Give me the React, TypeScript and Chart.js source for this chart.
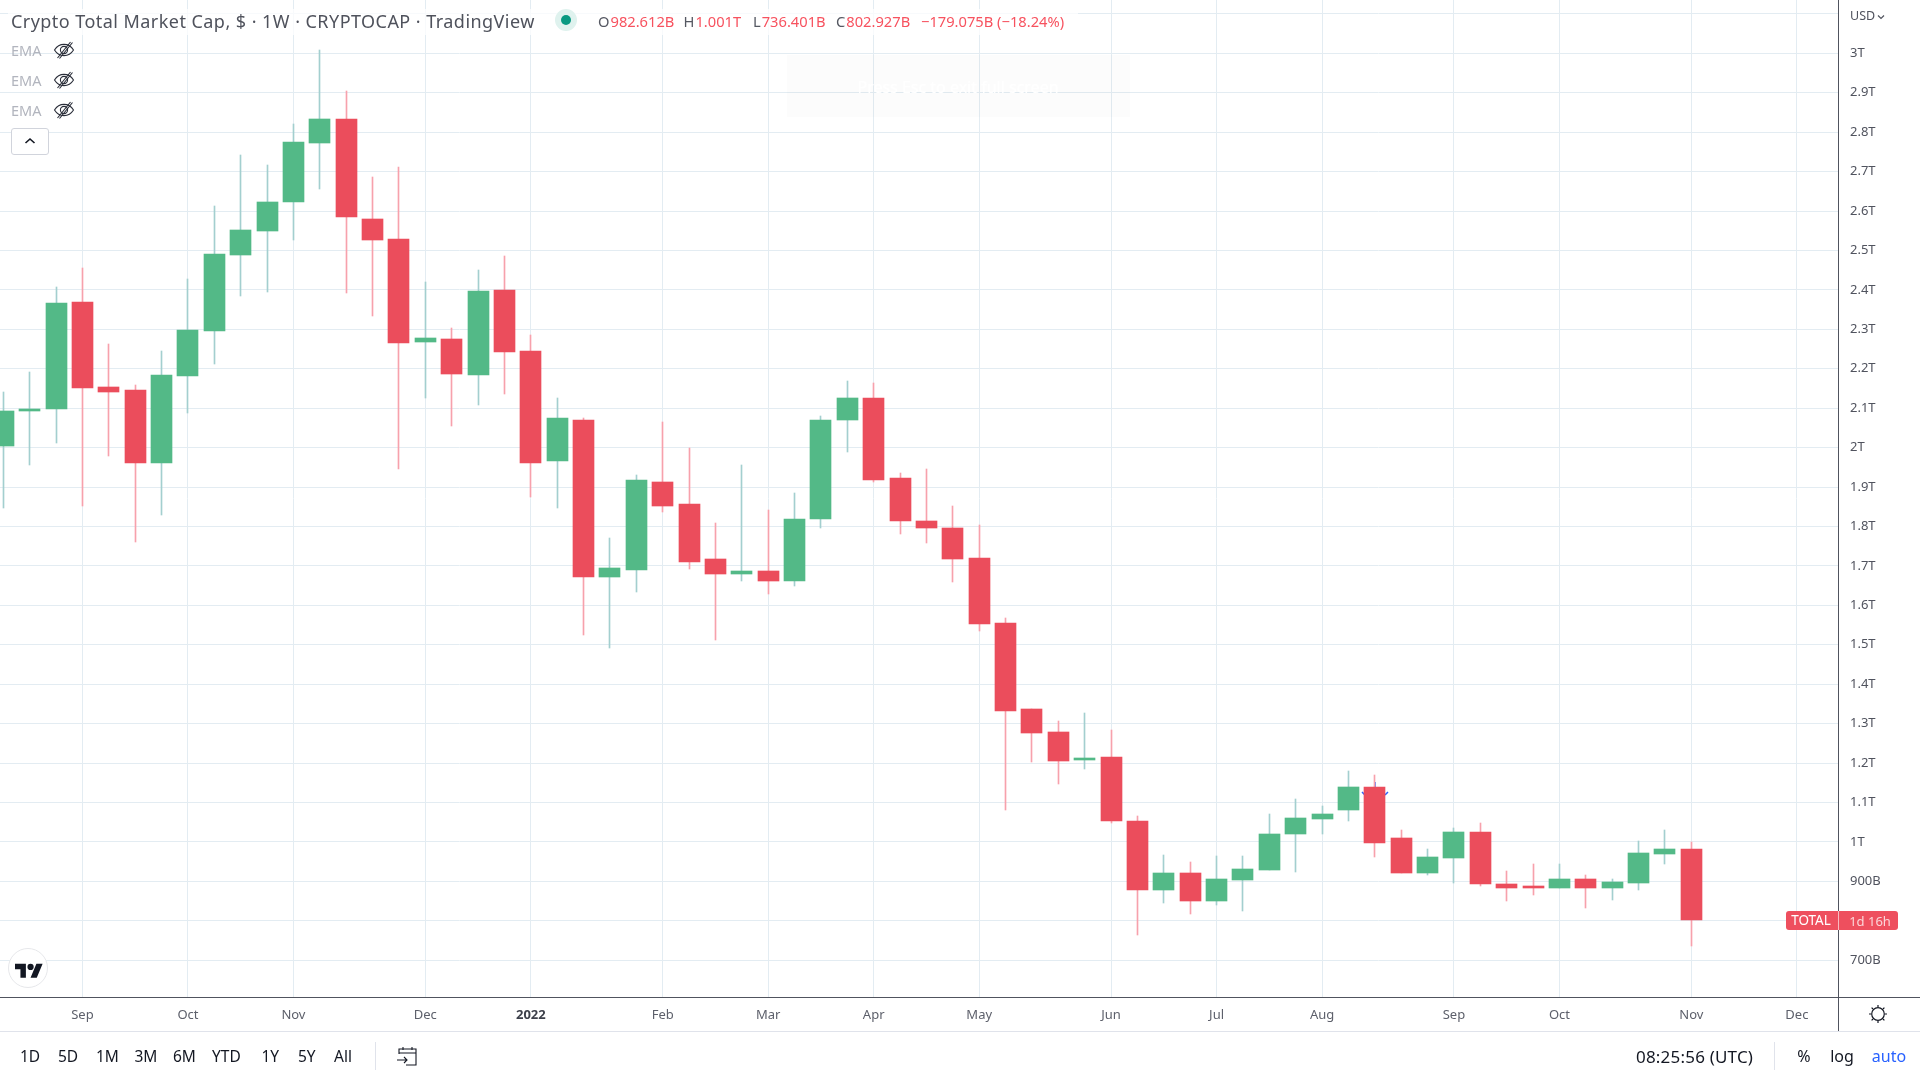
import React, { useEffect, useRef } from "react";
import { Chart, registerables } from "chart.js";

Chart.register(...registerables);

const opens = [2003,2092,2097,2369,2153,2145,1960,2181,2296,2489,2550,2623,2773,2833,2580,2529,2268,2276,2183,2400,2245,1965,2069,1671,1689,1914,1856,1717,1679,1686,1661,1820,2069,2127,1922,1815,1795,1719,1554,1336,1280,1209,1216,1054,879,922,849,904,930,1019,1059,1080,1140,1011,920,960,1026,894,889,882,907,884,897,970,982.612];
const highs = [2142,2191,2407,2456,2263,2160,2245,2428,2613,2742,2717,2821,3008,2904,2686,2712,2420,2303,2451,2486,2286,2125,2074,1772,1930,2066,1998,1810,1957,1843,1884,2079,2170,2163,1935,1945,1853,1805,1569,1338,1308,1328,1285,1067,968,948,965,965,1072,1110,1092,1181,1171,1031,983,1036,1049,927,945,943,915,907,1003,1031,1001];
const lows = [1846,1955,2011,1851,1978,1760,1828,2087,2211,2385,2395,2527,2656,2392,2334,1947,2127,2054,2107,2135,1876,1848,1526,1491,1635,1838,1691,1511,1661,1628,1648,1795,1990,1912,1780,1757,1658,1534,1082,1204,1148,1186,1049,765,846,818,839,826,929,925,1021,1052,963,920,917,897,889,849,866,882,833,854,879,943,736.401];
const closes = [2092,2099,2367,2150,2140,1962,2183,2298,2491,2552,2623,2775,2833,2585,2527,2265,2278,2188,2397,2243,1962,2074,1673,1696,1917,1853,1711,1679,1686,1661,1820,2071,2127,1919,1813,1795,1717,1552,1333,1277,1206,1214,1054,879,922,849,907,932,1021,1062,1072,1140,998,920,963,1026,894,884,884,907,884,899,973,983,802.927];

const monthTickIndex = [3,7,11,16,20,25,29,33,37,42,46,50,55,59,64,68];
const monthTickLabels = ["Sep","Oct","Nov","Dec","2022","Feb","Mar","Apr","May","Jun","Jul","Aug","Sep","Oct","Nov","Dec"];
const priceTicks = [700,800,900,1000,1100,1200,1300,1400,1500,1600,1700,1800,1900,2000,2100,2200,2300,2400,2500,2600,2700,2800,2900,3000,3100];
const priceTickLabels = ["700B","","900B","1T","1.1T","1.2T","1.3T","1.4T","1.5T","1.6T","1.7T","1.8T","1.9T","2T","2.1T","2.2T","2.3T","2.4T","2.5T","2.6T","2.7T","2.8T","2.9T","3T",""];

const rangeButtons = ["1D","5D","1M","3M","6M","YTD","1Y","5Y","All"];
const rangeButtonX = [20,58,96,134.5,173,212,261.5,298,334];
const ohlcParts = [
  { k: "O", v: "982.612B", x: 598 },
  { k: "H", v: "1.001T", x: 683.5 },
  { k: "L", v: "736.401B", x: 753 },
  { k: "C", v: "802.927B", x: 836 },
  { k: "", v: "\u2212179.075B (\u221218.24%)", x: 921 },
];
const markIndex = 52;
const markValue = 1124;

const UP = "#53b987";
const DOWN = "#eb4d5c";
const UP_WICK = "#a3cfcf";
const DOWN_WICK = "#f7a1ac";
const GRID = "#e3ecf2";
const FONT = '"Noto Sans", sans-serif';

const snapPlugin = {
  id: "snap",
  beforeDatasetsDraw(chart: any) {
    chart.data.datasets.forEach((_: any, i: number) => {
      chart.getDatasetMeta(i).data.forEach((el: any) => {
        el.x = Math.floor(el.x) + 0.5;
        el.y = Math.round(el.y);
        el.base = Math.round(el.base);
      });
    });
    const { ctx, scales } = chart;
    const mx = Math.round(scales.x.getPixelForValue(markIndex));
    const my = Math.round(scales.y.getPixelForValue(markValue));
    ctx.save();
    ctx.strokeStyle = "#2962ff";
    ctx.lineWidth = 1.5;
    ctx.beginPath();
    ctx.moveTo(mx - 13, my - 1);
    ctx.lineTo(mx - 10, my + 2);
    ctx.lineTo(mx - 6, my + 3);
    ctx.moveTo(mx + 13, my - 1);
    ctx.lineTo(mx + 10, my + 2);
    ctx.moveTo(mx, my - 11);
    ctx.lineTo(mx, my - 5);
    ctx.stroke();
    ctx.restore();
  },
};

function Txt({ x, y, children, color = "#131722", size = 15, anchor = "left", style = {} }: any) {
  const tx = anchor === "center" ? "translate(-50%,-50%)" : "translate(0,-50%)";
  return (
    <div style={{ position: "absolute", left: x, top: y, transform: tx, color, fontSize: size, fontFamily: FONT, whiteSpace: "nowrap", lineHeight: 1, ...style }}>
      {children}
    </div>
  );
}

function Eye({ y }: { y: number }) {
  return (
    <svg width="22" height="18" viewBox="0 0 22 18" style={{ position: "absolute", left: 53, top: y - 9 }} fill="none" stroke="#2a2e39" strokeWidth="1.1">
      <path d="M1.5 9C4 5 7 3.4 11 3.4S18 5 20.5 9C18 13 15 14.6 11 14.6S4 13 1.5 9Z" />
      <circle cx="11" cy="9" r="3.6" />
      <path d="M4.5 17L17.5 1M6.5 17.5L19.5 1.5" />
    </svg>
  );
}

export default function App() {
  const ref = useRef<HTMLCanvasElement>(null);
  useEffect(() => {
    const idx = closes.map((_, i) => i);
    const isUp = idx.map((i) => closes[i] >= opens[i]);
    const chart = new Chart(ref.current as HTMLCanvasElement, {
      type: "bar",
      data: {
        datasets: [
          {
            label: "Body",
            data: idx.map((i) => ({ x: i, y: [opens[i], closes[i]] })),
            backgroundColor: isUp.map((u) => (u ? UP : DOWN)),
            barThickness: 21,
            grouped: false,
            order: 1,
          },
          {
            label: "Wick",
            data: idx.map((i) => ({ x: i, y: [lows[i], highs[i]] })),
            backgroundColor: isUp.map((u) => (u ? UP_WICK : DOWN_WICK)),
            barThickness: 1,
            grouped: false,
            order: 2,
          },
        ],
      } as any,
      plugins: [snapPlugin],
      options: {
        animation: false,
        responsive: false,
        layout: { padding: { left: 0, right: 0, top: 0, bottom: 48 } },
        plugins: { legend: { display: false }, tooltip: { enabled: false }, title: { display: false } },
        scales: {
          x: {
            type: "linear",
            offset: false,
            min: -0.125,
            max: 69.56,
            border: { display: false },
            grid: { color: GRID, drawTicks: false, offset: false },
            afterBuildTicks: (s: any) => { s.ticks = monthTickIndex.map((v) => ({ value: v })); },
            afterFit: (s: any) => { s.height = 35; s.paddingLeft = 0; s.paddingRight = 0; },
            ticks: {
              autoSkip: false,
              maxRotation: 0,
              padding: 10,
              color: (c: any) => (c.tick && c.tick.value === 20 ? "#3d404a" : "#5d606b"),
              font: (c: any) => ({ family: FONT, size: 13, weight: c.tick && c.tick.value === 20 ? "bold" : "normal" }),
              callback: (v: any) => monthTickLabels[monthTickIndex.indexOf(v)] ?? "",
            },
          },
          y: {
            type: "linear",
            position: "right",
            min: 606.8,
            max: 3135.2,
            border: { display: false },
            grid: { color: GRID, drawTicks: false },
            afterBuildTicks: (s: any) => { s.ticks = priceTicks.map((v) => ({ value: v })); },
            afterFit: (s: any) => { s.width = 82; s.paddingTop = 0; s.paddingBottom = 0; },
            ticks: {
              autoSkip: false,
              crossAlign: "near",
              padding: 12,
              color: "#50535e",
              font: { family: FONT, size: 13 },
              callback: (v: any) => priceTickLabels[priceTicks.indexOf(v)] ?? "",
            },
          },
        },
      } as any,
    });
    return () => chart.destroy();
  }, []);

  return (
    <div style={{ position: "fixed", left: 0, top: 0, width: 1920, height: 1080, background: "#fff", overflow: "hidden" }}>
      <canvas ref={ref} width={1920} height={1080} style={{ position: "absolute", left: 0, top: 0, display: "block" }} />

      {/* frame lines */}
      <div style={{ position: "absolute", left: 1838, top: 0, width: 1, height: 1031, background: "#50535e" }} />
      <div style={{ position: "absolute", left: 0, top: 997, width: 1920, height: 1, background: "#50535e" }} />
      <div style={{ position: "absolute", left: 0, top: 1031, width: 1920, height: 1, background: "#e0e3eb" }} />

      {/* legend */}
      <div style={{ position: "absolute", left: 8, top: 9, width: 1070, height: 26, background: "rgba(255,255,255,0.75)" }} />
      <Txt x={11} y={21} size={18} color="#4f525c" style={{ letterSpacing: "0.45px" }}>Crypto Total Market Cap, $ · 1W · CRYPTOCAP · TradingView</Txt>
      <div style={{ position: "absolute", left: 555, top: 9, width: 22, height: 22, borderRadius: 11, background: "#dff2ee" }} />
      <div style={{ position: "absolute", left: 561, top: 15, width: 10, height: 10, borderRadius: 5, background: "#089981" }} />
      {ohlcParts.map((p) => (
        <Txt key={p.x} x={p.x} y={21} size={14.7} color="#f7525f">
          {p.k && <span style={{ color: "#555862", marginRight: 1 }}>{p.k}</span>}
          {p.v}
        </Txt>
      ))}
      {[50, 79.5, 109.5].map((y) => (
        <React.Fragment key={y}>
          <Txt x={11} y={y} size={14.5} color="#b2b5be">EMA</Txt>
          <Eye y={y} />
        </React.Fragment>
      ))}
      <div style={{ position: "absolute", left: 11, top: 128, width: 36, height: 25, border: "1px solid #d1d4dc", borderRadius: 3, background: "#fff" }} />
      <svg width="12" height="8" viewBox="0 0 12 8" style={{ position: "absolute", left: 24, top: 137 }} fill="none" stroke="#131722" strokeWidth="1.6">
        <path d="M1.5 6L6 2L10.5 6" />
      </svg>

      {/* faint notice */}
      <div style={{ position: "absolute", left: 787, top: 55, width: 343, height: 62, background: "rgba(0,0,0,0.012)" }} />
      <Txt x={958} y={87} size={16} anchor="center" color="#ffffff">Press Esc to exit full screen</Txt>

      {/* currency */}
      <Txt x={1850} y={16} size={12.5} color="#50535e">USD</Txt>
      <svg width="8" height="6" viewBox="0 0 8 6" style={{ position: "absolute", left: 1877, top: 14 }} fill="none" stroke="#50535e" strokeWidth="1.2">
        <path d="M1 1.5L4 4.5L7 1.5" />
      </svg>

      {/* last-price label */}
      <div style={{ position: "absolute", left: 1786, top: 911, width: 112, height: 19, borderRadius: 3, background: "#ee4f5e" }} />
      <div style={{ position: "absolute", left: 1838, top: 911, width: 1, height: 19, background: "#f8b9bf" }} />
      <Txt x={1811} y={920.5} size={13.5} anchor="center" color="#ffffff">TOTAL</Txt>
      <Txt x={1870} y={920.5} size={13} anchor="center" color="#fbd5d8">1d 16h</Txt>

      {/* logo */}
      <div style={{ position: "absolute", left: 8, top: 948, width: 40, height: 40, borderRadius: 20, background: "#fff", border: "1px solid #e6e7ea", boxSizing: "border-box" }} />
      <svg width="28" height="16" viewBox="0 0 36 20" style={{ position: "absolute", left: 15, top: 962 }} fill="#131722">
        <path d="M14 20H7V9H0V2h14v18zM28 20h-8l7.5-18h8L28 20z" />
        <circle cx="20" cy="6" r="4" />
      </svg>

      {/* gear */}
      <svg width="20" height="20" viewBox="0 0 20 20" style={{ position: "absolute", left: 1868, top: 1004 }} fill="none" stroke="#131722" strokeWidth="1.2">
        <circle cx="10" cy="10" r="6.3" />
        <path d="M10 1v2M10 17v2M1 10h2M17 10h2M3.6 3.6l1.4 1.4M15 15l1.4 1.4M3.6 16.4L5 15M15 5l1.4-1.4" />
      </svg>

      {/* bottom bar */}
      {rangeButtons.map((b, i) => (
        <Txt key={b} x={rangeButtonX[i]} y={1056.5} size={15.5}>{b}</Txt>
      ))}
      <div style={{ position: "absolute", left: 375, top: 1042, width: 1, height: 28, background: "#e0e3eb" }} />
      <svg width="22" height="22" viewBox="0 0 22 22" style={{ position: "absolute", left: 396, top: 1045 }} fill="none" stroke="#131722" strokeWidth="1.1">
        <path d="M3 9V4h17v16H10M3 8h17M7 2v3M16 2v3M1 15h10M8 12l3 3-3 3" />
      </svg>
      <Txt x={1636} y={1056} size={17} style={{ letterSpacing: "0.2px" }}>08:25:56 (UTC)</Txt>
      <div style={{ position: "absolute", left: 1774, top: 1042, width: 1, height: 28, background: "#e0e3eb" }} />
      <Txt x={1804} y={1056} size={16} anchor="center">%</Txt>
      <Txt x={1842} y={1056} size={16} anchor="center">log</Txt>
      <Txt x={1889} y={1056} size={16} anchor="center" color="#2962ff">auto</Txt>
    </div>
  );
}
